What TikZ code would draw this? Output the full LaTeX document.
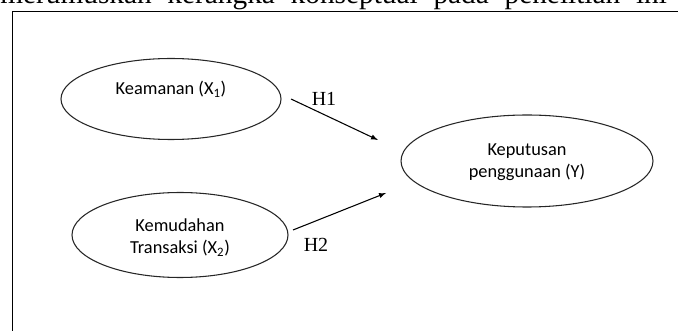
\documentclass[tikz,border=0pt]{standalone}
\usepackage{fontspec}
\setmainfont{Liberation Serif}
\newfontfamily\calibri{Carlito}
\usetikzlibrary{arrows,shapes.geometric}

\tikzset{
  var/.style={ellipse, draw=black!85, line width=0.8pt, inner sep=0pt},
  vartext/.style={font=\calibri\fontsize{13.75}{16.9}\selectfont, align=center, inner sep=0pt},
  hyp/.style={->, >=latex, line width=0.8pt},
  hyptext/.style={font=\fontsize{15}{18}\selectfont, inner sep=0pt, anchor=base},
}

\begin{document}
\begin{tikzpicture}[x=0.75pt,y=-0.75pt]
		\useasboundingbox (0,0) rectangle (678,331);
		\clip (0,0) rectangle (678,331);
		%Text above the frame
		\node[font=\fontsize{22}{26}\selectfont, inner sep=0pt, anchor=base west] (intro) at (0,3.5) {\makebox[500pt][s]{merumuskan kerangka konseptual pada penelitian ini}};
		%Frame
		\draw[line width=1.3pt] (12.5,345) -- (12.5,11.5) -- (690,11.5);
		%Variables
		\node[var, minimum width=165pt, minimum height=60.75pt] (x1) at (171,99) {};
		\node[vartext] (x1txt) at ([yshift=7.5pt]x1.center) {Keamanan (X\textsubscript{1})};
		\node[var, minimum width=162pt, minimum height=63.75pt] (x2) at (180,235) {};
		\node[vartext] (x2txt) at ([yshift=-2pt]x2.center) {Kemudahan\\Transaksi (X\textsubscript{2})};
		\node[var, minimum width=189pt, minimum height=69pt] (y) at (527,161) {};
		\node[vartext] (ytxt) at ([yshift=-1pt]y.center) {Keputusan\\penggunaan (Y)};
		%Hypotheses
		\coordinate (h1s) at (291,99);
		\coordinate (h1e) at (378,140);
		\coordinate (h2s) at (293,230);
		\coordinate (h2e) at (386,193);
		\draw[hyp] (h1s) -- (h1e);
		\draw[hyp] (h2s) -- (h2e);
		\node[hyptext] (h1) at (324,106) {H1};
		\node[hyptext] (h2) at (316,252) {H2};
\end{tikzpicture}
\end{document}
